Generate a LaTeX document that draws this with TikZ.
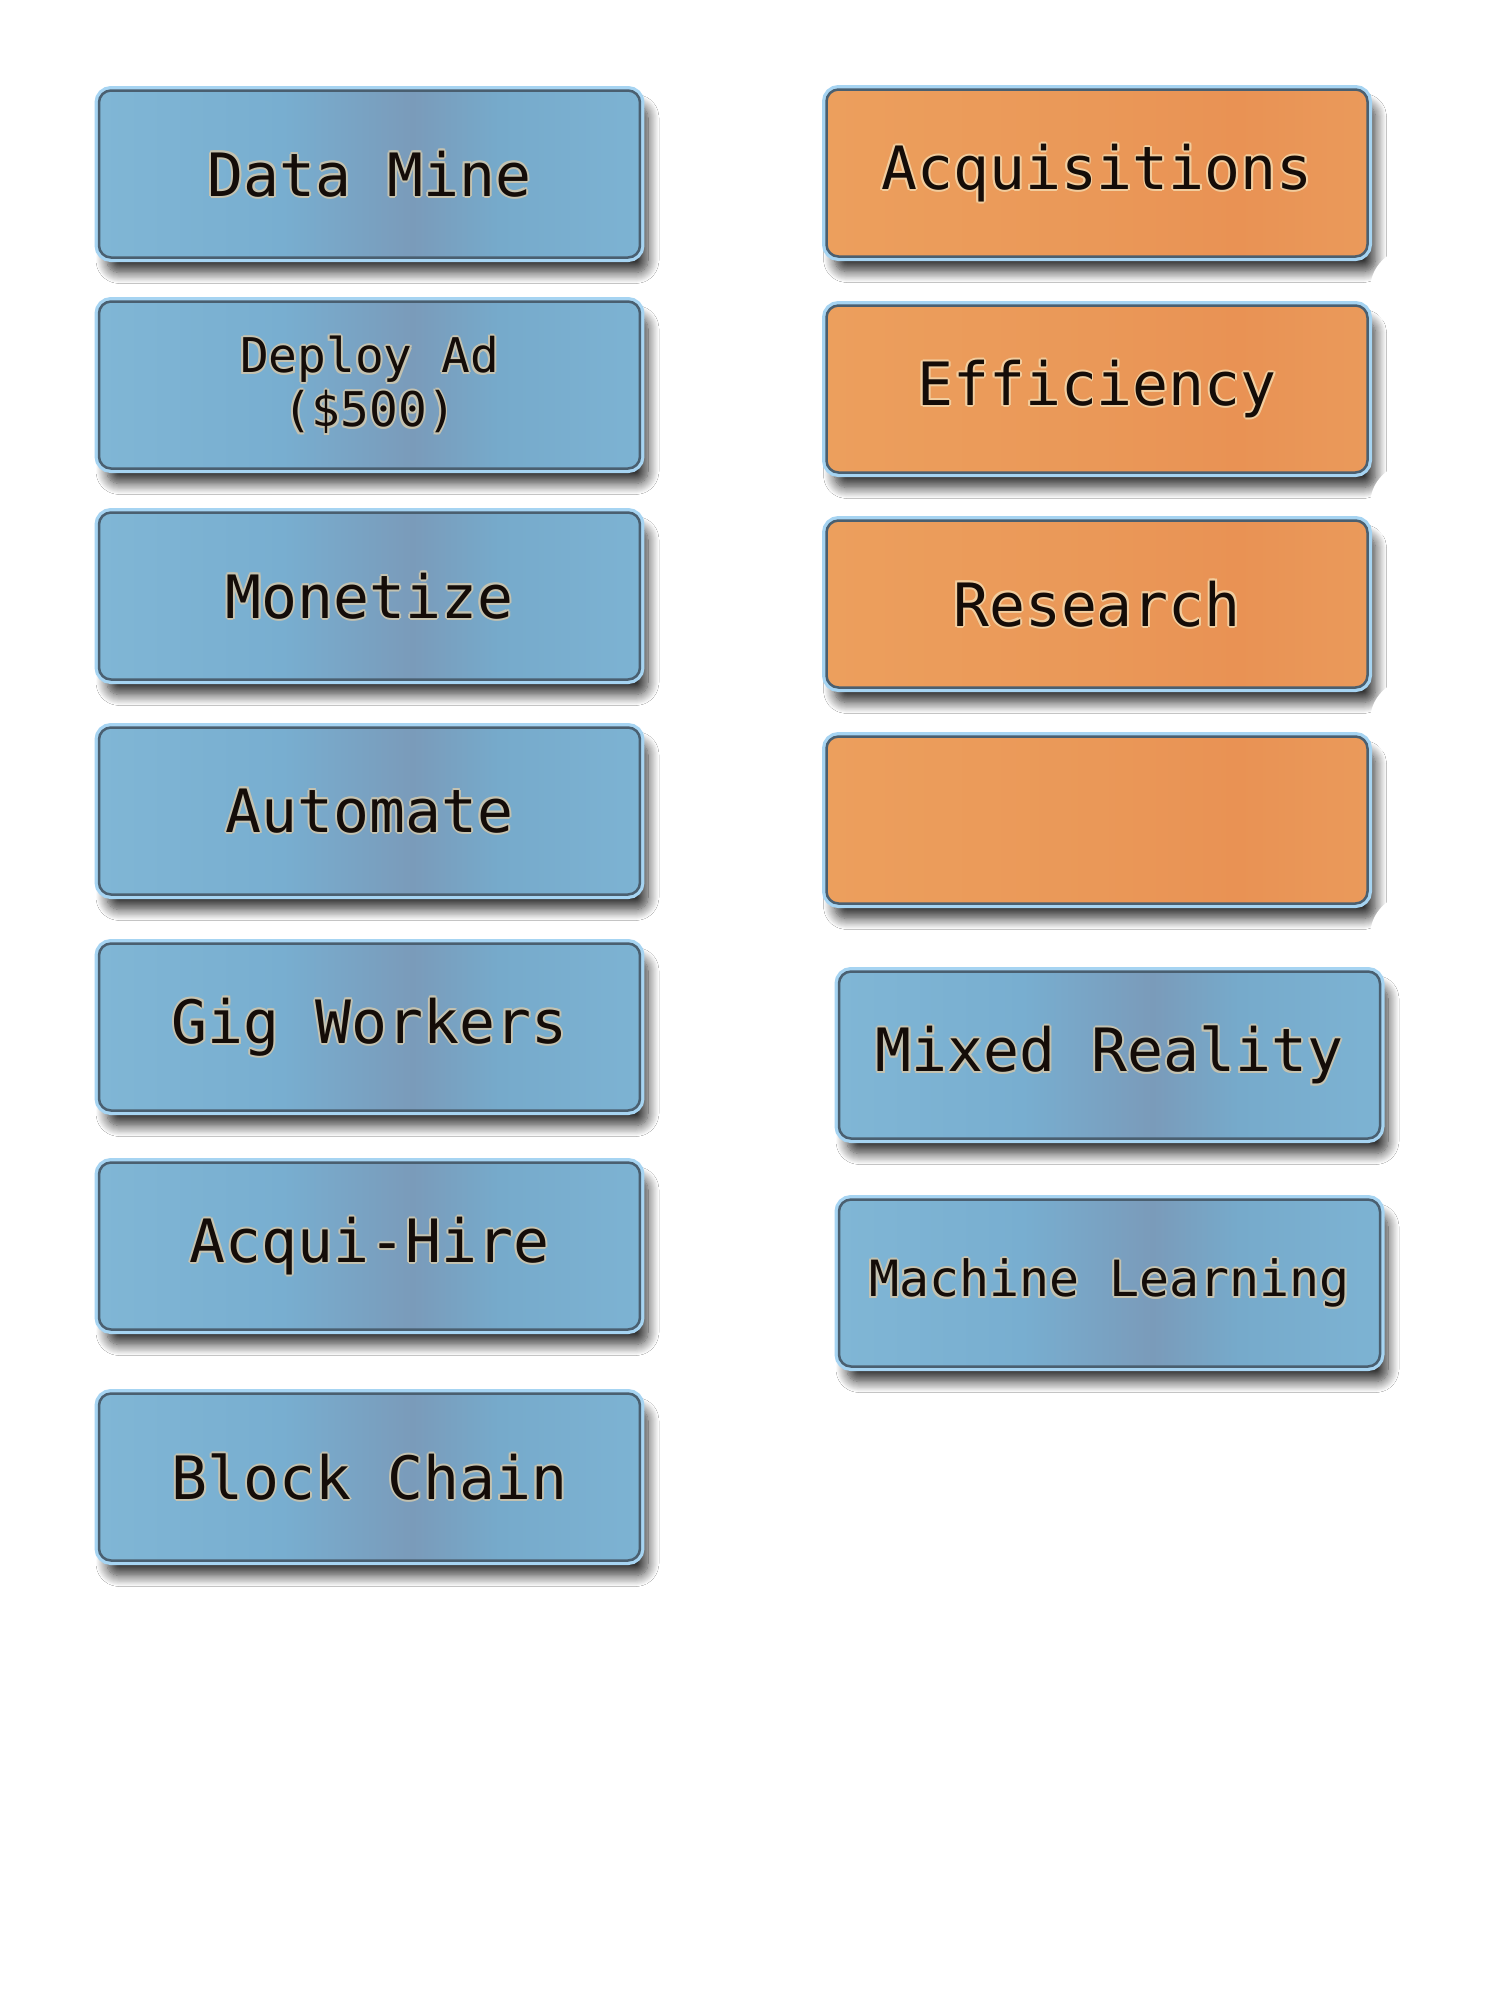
\documentclass[tikz,border=0pt]{standalone}
\usepackage{fontspec}
\setmonofont{DejaVu Sans Mono}
\usetikzlibrary{shadows.blur}
\definecolor{bA}{HTML}{80B6D5}
\definecolor{bB}{HTML}{78AED0}
\definecolor{bC}{HTML}{7A9BBA}
\definecolor{bD}{HTML}{76AACB}
\definecolor{bE}{HTML}{7DB3D3}
\definecolor{oA}{HTML}{EC9F5D}
\definecolor{oB}{HTML}{EA9858}
\definecolor{oC}{HTML}{E99254}
\definecolor{oD}{HTML}{EA9A5B}
\definecolor{edge}{HTML}{4A5F70}
\definecolor{glow}{HTML}{A6D4F2}
\definecolor{ink}{HTML}{140C08}
\definecolor{haloB}{HTML}{C4C2B0}
\definecolor{haloO}{HTML}{F2CD9E}
\pgfdeclarehorizontalshading{blueshade}{100bp}{color(0bp)=(bA); color(25bp)=(bA); color(42bp)=(bB); color(54bp)=(bC); color(62bp)=(bD); color(75bp)=(bE); color(100bp)=(bE)}
\pgfdeclarehorizontalshading{orangeshade}{100bp}{color(0bp)=(oA); color(25bp)=(oA); color(50bp)=(oB); color(63bp)=(oC); color(75bp)=(oD); color(100bp)=(oD)}
\newcommand{\gl}[1]{\leavevmode
  \rlap{\color{halo}\kern0.55pt#1}%
  \rlap{\color{halo}\kern-0.55pt#1}%
  \rlap{\color{halo}\raisebox{0.55pt}{#1}}%
  \rlap{\color{halo}\raisebox{-0.55pt}{#1}}%
  \rlap{\color{halo}\kern0.4pt\raisebox{0.4pt}{#1}}%
  \rlap{\color{halo}\kern-0.4pt\raisebox{0.4pt}{#1}}%
  \rlap{\color{halo}\kern0.4pt\raisebox{-0.4pt}{#1}}%
  \rlap{\color{halo}\kern-0.4pt\raisebox{-0.4pt}{#1}}%
  #1}
\tikzset{
  box/.style={rounded corners=1.2mm, minimum width=54.1mm, minimum height=16.7mm,
    inner sep=0pt, draw=edge, line width=0.25mm, text=ink, align=center,
    font=\ttfamily\fontsize{17}{20}\selectfont,
    blur shadow={shadow xshift=0.8mm, shadow yshift=-1.5mm, shadow blur radius=1.1mm, shadow blur steps=12, shadow opacity=80},
    preaction={draw=glow, line width=0.9mm}},
  bluebox/.style={box, shade, shading=blueshade, execute at begin node={\colorlet{halo}{haloB}}},
  orangebox/.style={box, shade, shading=orangeshade, execute at begin node={\colorlet{halo}{haloO}}},
  blob/.style={fill=white}
}
\begin{document}
\begin{tikzpicture}[x=0.1mm, y=-0.1mm]
\useasboundingbox (0,0) rectangle (1500,2000);
\fill[white] (0,0) rectangle (1500,2000);
% left column
\node[bluebox] (dm)  at (369.5,174)  {\gl{Data Mine}};
\node[bluebox, font=\ttfamily\fontsize{13.6}{15.4}\selectfont] (dep) at (369.5,385) {\gl{Deploy Ad}\\\gl{(\$500)}};
\node[bluebox] (mon) at (369.5,596)  {\gl{Monetize}};
\node[bluebox] (aut) at (369.5,811)  {\gl{Automate}};
\node[bluebox] (gig) at (369.5,1027) {\gl{Gig Workers}};
\node[bluebox] (ahi) at (369.5,1246) {\gl{Acqui-Hire}};
\node[bluebox] (blk) at (369.5,1477) {\gl{Block Chain}};
% right column
\node[orangebox] (acq) at (1097,173) {\gl{Acquisitions}};
\node[orangebox] (eff) at (1097,389) {\gl{Efficiency}};
\node[orangebox] (res) at (1097,604) {\gl{Research}};
\node[orangebox] (emp) at (1097,820) {};
\fill[blob] (1412,290) circle [radius=4.2mm];
\fill[blob] (1412,505) circle [radius=4.2mm];
\fill[blob] (1412,721) circle [radius=4.2mm];
\fill[blob] (1412,936) circle [radius=4.2mm];
\node[bluebox] (mr) at (1109.5,1055) {\gl{Mixed Reality}};
\node[bluebox, font=\ttfamily\fontsize{14.2}{17}\selectfont] (ml) at (1109.5,1283) {\gl{Machine Learning}};
\end{tikzpicture}
\end{document}
